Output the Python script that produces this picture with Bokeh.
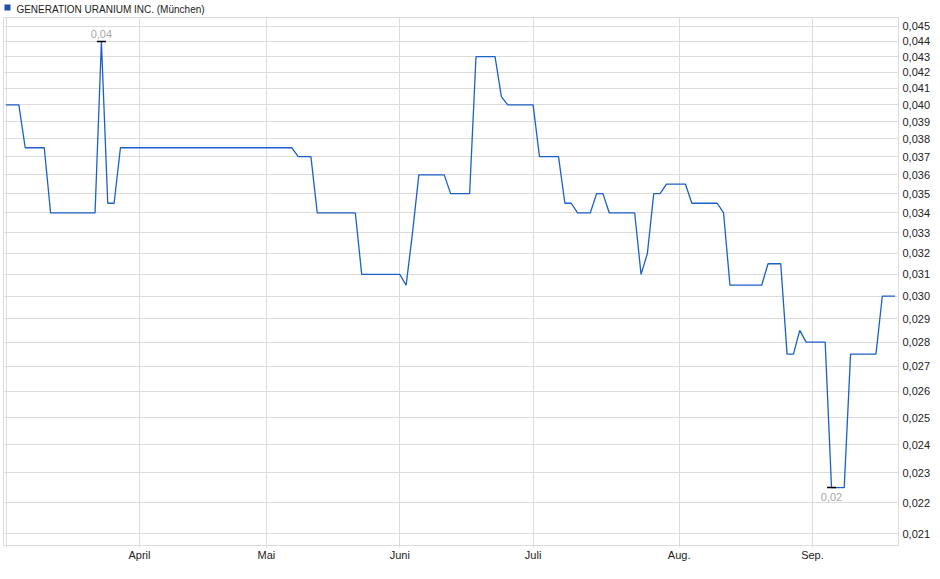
import json
import numpy as np
from bokeh.plotting import figure
from bokeh.models import FixedTicker, CustomJSTickFormatter, Range1d, LinearAxis
from bokeh.core.properties import value
from bokeh.embed import file_html
from bokeh.resources import INLINE

# ---- data (one value per trading day, 3 Mar 2025 .. 18 Sep 2025) ----
prices = [
    0.0400, 0.0400, 0.0400,
    0.0375, 0.0375, 0.0375, 0.0375,
    0.0340, 0.0340, 0.0340, 0.0340, 0.0340, 0.0340, 0.0340, 0.0340,
    0.0440,
    0.0345, 0.0345,
    0.0375, 0.0375, 0.0375, 0.0375, 0.0375, 0.0375, 0.0375, 0.0375, 0.0375, 0.0375,
    0.0375, 0.0375, 0.0375, 0.0375, 0.0375, 0.0375, 0.0375, 0.0375, 0.0375, 0.0375,
    0.0375, 0.0375, 0.0375, 0.0375, 0.0375, 0.0375, 0.0375, 0.0375,
    0.0370, 0.0370, 0.0370,
    0.0340, 0.0340, 0.0340, 0.0340, 0.0340, 0.0340, 0.0340,
    0.0310, 0.0310, 0.0310, 0.0310, 0.0310, 0.0310, 0.0310,
    0.0305,
    0.0330,
    0.0360, 0.0360, 0.0360, 0.0360, 0.0360,
    0.0350, 0.0350, 0.0350, 0.0350,
    0.0430, 0.0430, 0.0430, 0.0430,
    0.0405,
    0.0400, 0.0400, 0.0400, 0.0400, 0.0400,
    0.0370, 0.0370, 0.0370, 0.0370,
    0.0345, 0.0345,
    0.0340, 0.0340, 0.0340,
    0.0350, 0.0350,
    0.0340, 0.0340, 0.0340, 0.0340, 0.0340,
    0.0310,
    0.0320,
    0.0350, 0.0350,
    0.0355, 0.0355, 0.0355, 0.0355,
    0.0345, 0.0345, 0.0345, 0.0345, 0.0345,
    0.0340,
    0.0305, 0.0305, 0.0305, 0.0305, 0.0305, 0.0305,
    0.0315, 0.0315, 0.0315,
    0.0275, 0.0275,
    0.0285,
    0.0280, 0.0280, 0.0280, 0.0280,
    0.0225, 0.0225, 0.0225,
    0.0275, 0.0275, 0.0275, 0.0275, 0.0275,
    0.0300, 0.0300, 0.0300,
]
day_index = list(range(len(prices)))

month_start_index = [0, 21, 41, 62, 83, 106, 127]
month_labels = ["", "April", "Mai", "Juni", "Juli", "Aug.", "Sep."]

y_ticks = [0.021, 0.022, 0.023, 0.024, 0.025, 0.026, 0.027, 0.028, 0.029, 0.030,
           0.031, 0.032, 0.033, 0.034, 0.035, 0.036, 0.037, 0.038, 0.039, 0.040,
           0.041, 0.042, 0.043, 0.044, 0.045]

series_name = "GENERATION URANIUM INC. (München)"

FONT = "Liberation Sans"
LINE_BLUE = "#1b5fc8"
SQUARE_BLUE = "#1a4fb0"
GRID = "#dcdcdc"

W, H = 936, 571
LEFT, RIGHT, TOP, BOTTOM = 3, 38, 16, 26
X0, X1 = -0.42, 140.55
FRAME_W = W - LEFT - RIGHT


def px_to_x(px):
    """page pixel column -> x data value (for header placement)"""
    return X0 + (px - LEFT) * (X1 - X0) / FRAME_W


p = figure(width=W, height=H,
           y_axis_type="log", y_axis_location="right",
           x_range=Range1d(X0, X1), y_range=Range1d(0.020625, 0.04561),
           output_backend="svg", toolbar_location=None,
           min_border_left=LEFT, min_border_right=RIGHT,
           min_border_top=TOP, min_border_bottom=BOTTOM)
p.outline_line_color = GRID
p.background_fill_color = "white"
p.border_fill_color = "white"

# grids
p.xgrid.grid_line_color = GRID
p.ygrid.grid_line_color = GRID

# x axis
p.xaxis.ticker = FixedTicker(ticks=month_start_index, minor_ticks=[])
p.xaxis.major_label_overrides = {i: lbl for i, lbl in zip(month_start_index, month_labels)}
p.xaxis.axis_line_color = None
p.xaxis.major_tick_line_color = GRID
p.xaxis.major_tick_in = 0
p.xaxis.major_tick_out = 2
p.xaxis.minor_tick_line_color = None
p.xaxis.major_label_standoff = 1
p.xaxis.major_label_text_font = FONT
p.xaxis.major_label_text_font_size = "11px"
p.xaxis.major_label_text_color = "#222222"

# y axis (right, log)
p.yaxis.ticker = FixedTicker(ticks=y_ticks, minor_ticks=[])
p.yaxis.formatter = CustomJSTickFormatter(code="return tick.toFixed(3).replace('.', ',');")
p.yaxis.axis_line_color = None
p.yaxis.major_tick_line_color = None
p.yaxis.minor_tick_line_color = None
p.yaxis.major_tick_in = 0
p.yaxis.major_tick_out = 0
p.yaxis.major_label_standoff = 4
p.yaxis.major_label_text_font = FONT
p.yaxis.major_label_text_font_size = "11px"
p.yaxis.major_label_text_color = "#222222"

# header: blue square (a thick minor tick) + series name (tick label) on an axis above
hdr = LinearAxis(
    ticker=FixedTicker(ticks=[px_to_x(110)], minor_ticks=[px_to_x(6.7)]),
    formatter=CustomJSTickFormatter(code="return " + json.dumps(series_name) + ";"),
    axis_line_color=None,
    major_tick_line_color=None, major_tick_in=0, major_tick_out=0,
    minor_tick_line_color=SQUARE_BLUE, minor_tick_line_width=6,
    minor_tick_in=-7, minor_tick_out=13,
    major_label_standoff=-10,
    major_label_text_font=FONT, major_label_text_font_size="10px",
    major_label_text_color="#222222",
)
p.add_layout(hdr, "above")

# price line
p.line(day_index, prices, line_color=LINE_BLUE, line_width=1.3)

# max / min markers
arr = np.array(prices)
imax = int(np.argmax(arr))
imin = int(np.argmin(arr))
pmax = prices[imax]
pmin = prices[imin]
p.scatter(x=[imax, imin], y=[pmax, pmin], marker="dash", size=9,
          line_color="black", line_width=1.5)
p.text(x=[imax], y=[pmax], text=[f"{pmax:.2f}".replace(".", ",")],
       text_align="center", text_baseline="bottom", y_offset=-3,
       text_font=value(FONT), text_font_size="11px", text_color="#a8a8a8")
p.text(x=[imin], y=[pmin], text=[f"{pmin:.2f}".replace(".", ",")],
       text_align="center", text_baseline="top", y_offset=5,
       text_font=value(FONT), text_font_size="11px", text_color="#a8a8a8")

open("out.html", "w").write(file_html(p, INLINE))
